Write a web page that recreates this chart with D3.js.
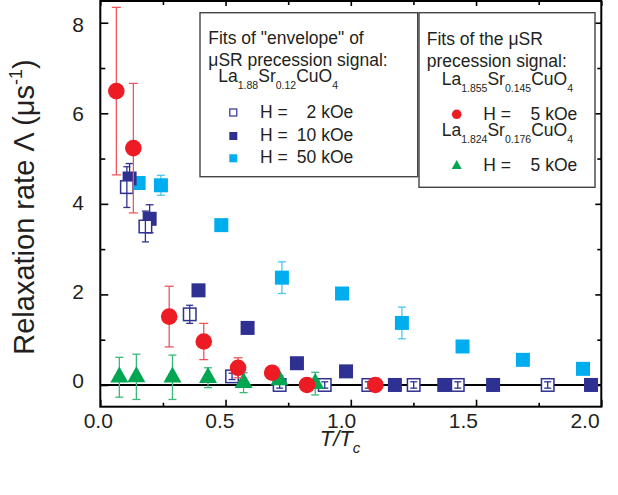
<!DOCTYPE html>
<html>
<head>
<meta charset="utf-8">
<script src="https://cdn.jsdelivr.net/npm/d3@7"></script>
<style>
  body { margin: 0; background: #fff; }
  svg { display: block; font-family: Arial, "Liberation Sans", sans-serif; }
</style>
</head>
<body>
<svg id="chart" width="618" height="495"></svg>
<script>
// La1.88Sr0.12CuO4, "envelope" fits, H = 2 kOe (open squares)
const h2T   = [0.106, 0.180, 0.357, 0.526, 0.716, 0.896, 1.070, 1.251, 1.427, 1.786];
const h2L   = [4.37, 3.50, 1.56, 0.19, 0, 0, 0, 0, 0, 0];
const h2Err = [0.45, 0.34, 0.20, 0.07, 0.07, 0.07, 0.07, 0.07, 0.07, 0.07];

// H = 10 kOe (dark filled squares)
const h10T   = [0.117, 0.197, 0.392, 0.588, 0.785, 0.981, 1.176, 1.373, 1.568, 1.959];
const h10L   = [4.56, 3.67, 2.09, 1.26, 0.48, 0.30, 0, 0, 0, 0];
const h10Err = [0.33, 0.31, 0, 0, 0, 0, 0, 0, 0, 0];

// H = 50 kOe (light filled squares)
const h50T   = [0.153, 0.242, 0.483, 0.725, 0.965, 1.204, 1.446, 1.687, 1.927];
const h50L   = [4.46, 4.41, 3.53, 2.37, 2.02, 1.37, 0.85, 0.555, 0.356];
const h50Err = [0, 0.22, 0, 0.35, 0, 0.35, 0, 0, 0];

// La1.855Sr0.145CuO4, precession signal, H = 5 kOe (circles)
const x145T   = [0.064, 0.132, 0.275, 0.413, 0.550, 0.686, 0.825, 1.098];
const x145L   = [6.49, 5.23, 1.51, 0.96, 0.38, 0.27, 0, 0];
const x145Err = [1.85, 1.43, 0.67, 0.40, 0.22, 0, 0, 0];

// La1.824Sr0.176CuO4, precession signal, H = 5 kOe (triangles)
const x176T   = [0.076, 0.144, 0.288, 0.430, 0.572, 0.715, 0.858];
const x176L   = [0.17, 0.18, 0.17, 0.16, 0.05, 0.11, 0.03];
const x176Err = [0.44, 0.50, 0.49, 0.22, 0.22, 0.10, 0.25];

const xMajor = [0, 0.5, 1.0, 1.5, 2.0];
const xMinor = [0.25, 0.75, 1.25, 1.75];
const yMajor = [0, 2, 4, 6, 8];
const yMinor = [1, 3, 5, 7];

const COL = {
  red: "#ed1c24", redBar: "#f0555b",
  green: "#00a651", greenBar: "#3cb878",
  navy: "#2e3192", navyBar: "#2e3192",
  sky: "#00aeef", skyBar: "#4cc6f2",
  text: "#231f20"
};

const svg = d3.select("#chart");
const plotL = 100.3, plotR = 601.3, plotT = 1, plotB = 406.7;

const x = d3.scaleLinear().domain([0, 2]).range([plotL, plotR]);
const y = d3.scaleLinear().domain([-0.48, 8.48]).range([plotB, plotT]);
// tick labels sit on a slightly tighter grid than the ticks themselves
const xLab = d3.scaleLinear().domain([0, 2]).range([98.3, 585]);
const yLab = d3.scaleLinear().domain([0, 8]).range([380, 24]);

// frame ticks (inward on all sides)
function tickAxis(axisFn, scale, vals, len, tr) {
  const g = svg.append("g").attr("transform", tr)
    .call(axisFn(scale).tickValues(vals).tickSize(-len).tickFormat(""));
  g.select(".domain").remove();
  g.selectAll("line").attr("stroke", "#000").attr("stroke-width", 1.6);
}
tickAxis(d3.axisBottom, x, xMajor, 7, `translate(0,${plotB})`);
tickAxis(d3.axisBottom, x, xMinor, 4, `translate(0,${plotB})`);
tickAxis(d3.axisTop, x, xMajor, 5, `translate(0,${plotT})`);
tickAxis(d3.axisTop, x, xMinor, 4, `translate(0,${plotT})`);
tickAxis(d3.axisLeft, y, yMajor, 8, `translate(${plotL},0)`);
tickAxis(d3.axisLeft, y, yMinor, 5, `translate(${plotL},0)`);
tickAxis(d3.axisRight, y, yMajor, 6, `translate(${plotR},0)`);
tickAxis(d3.axisRight, y, yMinor, 4, `translate(${plotR},0)`);

svg.append("rect")
  .attr("x", plotL).attr("y", plotT)
  .attr("width", plotR - plotL).attr("height", plotB - plotT)
  .attr("fill", "none").attr("stroke", "#000").attr("stroke-width", 2);

// zero line
svg.append("line")
  .attr("x1", plotL).attr("x2", plotR)
  .attr("y1", y(0)).attr("y2", y(0))
  .attr("stroke", "#000").attr("stroke-width", 2);

// tick labels
svg.append("g").selectAll("text").data(xMajor).join("text")
  .attr("x", d => xLab(d)).attr("y", 428)
  .attr("text-anchor", "middle").attr("font-size", 21).attr("fill", COL.text)
  .text(d => d.toFixed(1));
svg.append("g").selectAll("text").data(yMajor).join("text")
  .attr("x", 84).attr("y", d => yLab(d)).attr("dy", "0.36em")
  .attr("text-anchor", "end").attr("font-size", 21).attr("fill", COL.text)
  .text(d => d);

// axis titles
const xt = svg.append("text").attr("x", 340).attr("y", 446)
  .attr("text-anchor", "middle").attr("font-size", 22).attr("fill", COL.text);
xt.append("tspan").attr("font-style", "italic").text("T/T");
xt.append("tspan").attr("font-style", "italic").attr("font-size", 15).attr("dy", 7).text("c");

const yt = svg.append("text")
  .attr("transform", "translate(34,207) rotate(-90)")
  .attr("text-anchor", "middle").attr("font-size", 29).attr("fill", COL.text);
yt.append("tspan").text("Relaxation rate \u039B (\u03BCs");
yt.append("tspan").attr("font-size", 18).attr("dy", -12).text("-1");
yt.append("tspan").attr("dy", 12).text(")");

// error bars
function errorBars(T, L, E, color, cap) {
  const rows = T.map((t, i) => ({ t, v: L[i], e: E[i] })).filter(d => d.e > 0);
  const g = svg.append("g").attr("stroke", color).attr("stroke-width", 1.3).attr("fill", "none");
  rows.forEach(d => {
    const cx = x(d.t), y1 = y(d.v - d.e), y2 = y(d.v + d.e);
    g.append("line").attr("x1", cx).attr("x2", cx).attr("y1", y1).attr("y2", y2);
    g.append("line").attr("x1", cx - cap / 2).attr("x2", cx + cap / 2).attr("y1", y1).attr("y2", y1);
    g.append("line").attr("x1", cx - cap / 2).attr("x2", cx + cap / 2).attr("y1", y2).attr("y2", y2);
  });
}
function squares(T, L, size, fill, stroke, sw) {
  svg.append("g").selectAll("rect").data(T.map((t, i) => ({ t, v: L[i] }))).join("rect")
    .attr("x", d => x(d.t) - size / 2).attr("y", d => y(d.v) - size / 2)
    .attr("width", size).attr("height", size)
    .attr("fill", fill).attr("stroke", stroke).attr("stroke-width", sw);
}
// triangle path with its centroid at the data point
function triPath(w, h) {
  return `M0,${-2 * h / 3}L${w / 2},${h / 3}L${-w / 2},${h / 3}Z`;
}

// 50 kOe
errorBars(h50T, h50L, h50Err, COL.skyBar, 8);
squares(h50T, h50L, 14, COL.sky, "none", 0);
// 10 kOe
errorBars(h10T, h10L, h10Err, COL.navyBar, 8);
squares(h10T, h10L, 14, COL.navy, "none", 0);
// 2 kOe
squares(h2T, h2L, 12.5, "#fff", COL.navy, 1.5);
errorBars(h2T, h2L, h2Err, COL.navyBar, 7);
// x = 0.176 triangles
errorBars(x176T, x176L, x176Err, COL.greenBar, 8);
svg.append("g").selectAll("path").data(x176T.map((t, i) => ({ t, v: x176L[i] }))).join("path")
  .attr("transform", d => `translate(${x(d.t)},${y(d.v)})`)
  .attr("d", triPath(18, 16)).attr("fill", COL.green);
// x = 0.145 circles
errorBars(x145T, x145L, x145Err, COL.redBar, 9);
svg.append("g").selectAll("circle").data(x145T.map((t, i) => ({ t, v: x145L[i] }))).join("circle")
  .attr("cx", d => x(d.t)).attr("cy", d => y(d.v)).attr("r", 8.3)
  .attr("fill", COL.red);

// legend boxes
function box(x0, y0, x1, y1) {
  svg.append("rect").attr("x", x0).attr("y", y0).attr("width", x1 - x0).attr("height", y1 - y0)
    .attr("fill", "#fff").attr("stroke", "#444").attr("stroke-width", 1.4);
}
const LF = 17.5;
function line(xp, yp, str, anchor) {
  return svg.append("text").attr("x", xp).attr("y", yp).attr("font-size", LF)
    .attr("fill", COL.text).attr("text-anchor", anchor || "start").text(str);
}
function formula(xp, yp, parts) {
  const t = svg.append("text").attr("x", xp).attr("y", yp).attr("font-size", LF).attr("fill", COL.text);
  parts.forEach(([s, sub]) => {
    if (sub) t.append("tspan").attr("font-size", 10.5).attr("dy", 7).text(s);
    else t.append("tspan").attr("dy", t.selectAll("tspan").size() ? -7 : 0).text(s);
  });
}

box(200, 12.7, 417.7, 176.7);
line(208.3, 44, "Fits of \"envelope\" of");
line(208.3, 66, "\u03BCSR precession signal:");
formula(218.3, 88.5, [["La"], ["1.88", 1], ["Sr"], ["0.12", 1], ["CuO"], ["4", 1]]);
svg.append("rect").attr("x", 229.8).attr("y", 109).attr("width", 7).attr("height", 7)
  .attr("fill", "#fff").attr("stroke", COL.navy).attr("stroke-width", 1.2);
svg.append("rect").attr("x", 229.3).attr("y", 132).attr("width", 8).attr("height", 8).attr("fill", COL.navy);
svg.append("rect").attr("x", 229.3).attr("y", 154.3).attr("width", 8).attr("height", 8).attr("fill", COL.sky);
[["2 kOe", 118.3], ["10 kOe", 141], ["50 kOe", 163.3]].forEach(([s, yy]) => {
  line(260, yy, "H =");
  line(353.3, yy, s, "end");
});

box(419, 12.7, 595, 187.3);
line(426.7, 45, "Fits of the \u03BCSR");
line(426.7, 67, "precession signal:");
formula(441.7, 91.5, [["La"], ["1.855", 1], ["Sr"], ["0.145", 1], ["CuO"], ["4", 1]]);
svg.append("circle").attr("cx", 456.7).attr("cy", 114.3).attr("r", 4.8).attr("fill", COL.red);
line(483.3, 119.5, "H =");
line(577.3, 119.5, "5 kOe", "end");
formula(441.7, 142.5, [["La"], ["1.824", 1], ["Sr"], ["0.176", 1], ["CuO"], ["4", 1]]);
svg.append("path").attr("transform", "translate(456.7,166)").attr("d", triPath(10, 9)).attr("fill", COL.green);
line(483.3, 170.7, "H =");
line(577.3, 170.7, "5 kOe", "end");
</script>
</body>
</html>
